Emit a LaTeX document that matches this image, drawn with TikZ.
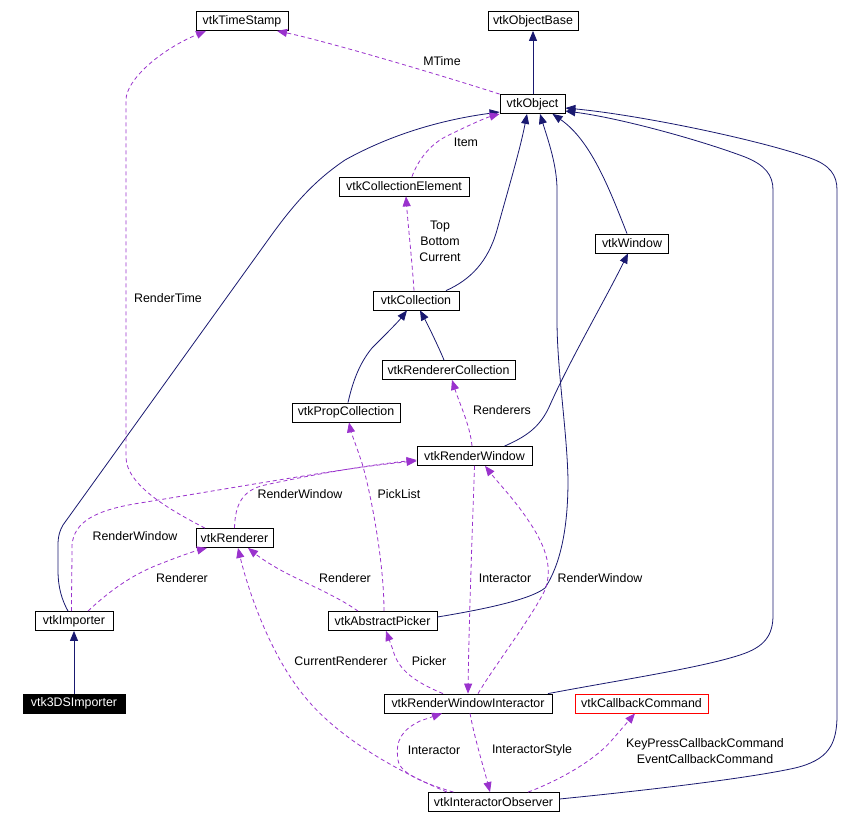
\documentclass[tikz,border=0pt]{standalone}
\usepackage{fontspec}
\setmainfont{Liberation Sans}
\usetikzlibrary{arrows.meta}
\definecolor{navyc}{RGB}{25,25,112}
\definecolor{purc}{RGB}{154,50,205}
\definecolor{redc}{RGB}{255,0,0}
\begin{document}
\begin{tikzpicture}[x=1pt,y=-1pt,
  every node/.style={font=\fontsize{12.4}{14}\selectfont},
  cls/.style={draw=black,line width=0.8pt,fill=white,minimum height=19pt,inner sep=0pt},
  inh/.style={draw=navyc,line width=0.8pt,-{Triangle[length=10pt,width=8pt]}},
  col/.style={draw=purc,line width=0.8pt,dash pattern=on 4pt off 3pt,-{Triangle[length=10pt,width=8pt]}},
  lbl/.style={inner sep=0pt,align=center,font=\fontsize{12.4}{16}\selectfont}]
\useasboundingbox[fill=white] (0,0) rectangle (853,824);

% classes
\node[cls,minimum width=92pt] (ts) at (242,21) {vtkTimeStamp};
\node[cls,minimum width=90pt] (objbase) at (533,21) {vtkObjectBase};
\node[cls,minimum width=65pt] (obj) at (532.5,104) {vtkObject};
\node[cls,minimum width=130pt] (colel) at (404,186.5) {vtkCollectionElement};
\node[cls,minimum width=73pt] (win) at (632,243.5) {vtkWindow};
\node[cls,minimum width=86pt] (coll) at (416,300.5) {vtkCollection};
\node[cls,minimum width=133pt] (rcoll) at (448.5,370) {vtkRendererCollection};
\node[cls,minimum width=108pt] (propcoll) at (346,412.5) {vtkPropCollection};
\node[cls,minimum width=115pt] (rwin) at (474.5,456) {vtkRenderWindow};
\node[cls,minimum width=77pt] (ren) at (234.5,538) {vtkRenderer};
\node[cls,minimum width=78pt] (imp) at (74,621) {vtkImporter};
\node[cls,minimum width=102pt,fill=black,text=white] (ds) at (74,703.5) {vtk3DSImporter};
\node[cls,minimum width=109pt] (picker) at (382.5,621) {vtkAbstractPicker};
\node[cls,minimum width=168pt] (rwi) at (468,703.5) {vtkRenderWindowInteractor};
\node[cls,minimum width=133pt,draw=redc] (cb) at (641.5,703.5) {vtkCallbackCommand};
\node[cls,minimum width=131pt] (iobs) at (493.5,802) {vtkInteractorObserver};

% inheritance (navy)
\draw[inh] ([xshift=0.5pt]obj.north) -- (objbase.south);
\draw[inh] ([xshift=30pt]coll.north) .. controls (470,280) and (488,262) .. (497,230)
  .. controls (508,190) and (520,150) .. ([xshift=-5.5pt]obj.south);
\draw[inh] ([yshift=4pt]picker.east) .. controls (480,610) and (530,600) .. (545,588)
  .. controls (560,565) and (568,530) .. (568,480)
  .. controls (567,430) and (557,370) .. (557,320) -- (557,190)
  .. controls (557,165) and (548,140) .. ([xshift=7.5pt]obj.south);
\draw[inh] ([xshift=-5pt]win.north) .. controls (608,185) and (590,140) .. ([xshift=20pt]obj.south);
\draw[inh] ([xshift=80pt]rwi.north) .. controls (620,680) and (700,668) .. (740,655)
  .. controls (765,647) and (773,635) .. (773,615) -- (773,190)
  .. controls (773,175) and (765,165) .. (745,157)
  .. controls (700,140) and (620,118) .. ([yshift=-7pt]obj.east);
\draw[inh] ([yshift=3pt]iobs.east) .. controls (650,790) and (750,778) .. (795,768)
  .. controls (828,760) and (837,745) .. (837,715) -- (837,190)
  .. controls (837,175) and (830,165) .. (810,158)
  .. controls (760,140) and (640,115) .. ([yshift=-4pt]obj.east);
\draw[inh] ([xshift=-6pt]imp.north) .. controls (62,600) and (58,588) .. (58,570) -- (58,545)
  .. controls (58,536) and (60,530) .. (63,525) -- (273,233)
  .. controls (300,196) and (320,177) .. (345,160)
  .. controls (390,135) and (440,120) .. ([yshift=-8pt]obj.west);
\draw[inh] ([xshift=30pt]rwin.north) .. controls (525,437) and (540,428) .. (550,405)
  .. controls (570,360) and (605,300) .. ([xshift=-4pt]win.south);
\draw[inh] ([xshift=-4.5pt]rcoll.north) .. controls (440,350) and (428,325) .. ([xshift=4pt]coll.south);
\draw[inh] ([xshift=2pt]propcoll.north) .. controls (352,385) and (358,365) .. (372,348)
  .. controls (385,335) and (398,322) .. ([xshift=-9pt]coll.south);
\draw[inh] (ds.north) -- (imp.south);

% collaboration (purple dashed)
\draw[col] ([xshift=8pt]colel.north) .. controls (418,160) and (430,145) .. (445,137)
  .. controls (465,127) and (485,118) .. (obj.south west);
\draw[col] (obj.north west) .. controls (450,78) and (330,42) .. ([xshift=35pt]ts.south);
\draw[col] ([xshift=-29.5pt]ren.north) .. controls (170,510) and (126,485) .. (126,457)
  -- (126,100) .. controls (126,80) and (160,50) .. ([xshift=-36pt]ts.south);
\draw[col] ([xshift=-2pt]coll.north) .. controls (412,260) and (408,225) .. ([xshift=2pt]colel.south);
\draw[col] ([xshift=-2.5pt]rwin.north) .. controls (470,425) and (460,405) .. ([xshift=3.5pt]rcoll.south);
\draw[col] ([xshift=1.5pt]picker.north) .. controls (384,560) and (370,490) .. (362,463)
  .. controls (356,445) and (351,432) .. ([xshift=3pt]propcoll.south);
\draw[col] (ren.north) .. controls (235,505) and (242,490) .. (265,485)
  .. controls (320,473) and (370,465) .. ([yshift=-4pt]rwin.west);
\draw[col] ([xshift=-2.5pt]imp.north) .. controls (71.5,590) and (72,565) .. (72,545)
  .. controls (74,522) and (95,510) .. (140,503)
  .. controls (250,485) and (350,467) .. ([yshift=-5pt]rwin.west);
\draw[col] ([xshift=14pt]imp.north) .. controls (105,595) and (130,575) .. (160,564)
  .. controls (180,556) and (195,551) .. ([xshift=-27.5pt]ren.south);
\draw[col] ([xshift=-24.5pt]picker.north) .. controls (340,598) and (310,585) .. (290,575)
  .. controls (270,565) and (258,556) .. ([xshift=13.5pt]ren.south);
\draw[col] ([xshift=-46.5pt]iobs.north) .. controls (400,772) and (340,740) .. (305,697)
  .. controls (270,655) and (248,590) .. ([xshift=3.5pt]ren.south);
\draw[col] ([xshift=-25pt]rwi.north) .. controls (415,682) and (398,670) .. (393,650)
  -- ([xshift=3.5pt]picker.south);
\draw[col] (rwin.south) .. controls (472,540) and (469,620) .. (rwi.north);
\draw[col] ([xshift=10pt]rwi.north) .. controls (495,665) and (530,620) .. (545,590)
  .. controls (552,570) and (548,550) .. (530,523)
  .. controls (515,500) and (500,485) .. ([xshift=10.5pt]rwin.south);
\draw[col] ([xshift=-40pt]iobs.north) .. controls (430,785) and (400,775) .. (398,760)
  .. controls (395,740) and (402,730) .. (420,721) -- ([xshift=-26pt]rwi.south);
\draw[col] ([xshift=2pt]rwi.south) .. controls (475,740) and (483,765) .. ([xshift=-3.5pt]iobs.north);
\draw[col] ([xshift=34.5pt]iobs.north) .. controls (560,780) and (595,760) .. (612,740)
  -- ([xshift=-6.5pt]cb.south);

% labels
\node[lbl] (l1) at (442,61) {MTime};
\node[lbl] (l2) at (466,142) {Item};
\node[lbl] (l3) at (440,241) {Top\\Bottom\\Current};
\node[lbl] (l4) at (168,298) {RenderTime};
\node[lbl] (l5) at (502,410) {Renderers};
\node[lbl] (l6) at (300,494) {RenderWindow};
\node[lbl] (l7) at (399,494) {PickList};
\node[lbl] (l8) at (135,536) {RenderWindow};
\node[lbl] (l9) at (182,578) {Renderer};
\node[lbl] (l10) at (345,578) {Renderer};
\node[lbl] (l11) at (505,578) {Interactor};
\node[lbl] (l12) at (600,578) {RenderWindow};
\node[lbl] (l13) at (341,661) {CurrentRenderer};
\node[lbl] (l14) at (429,661) {Picker};
\node[lbl] (l15) at (434,750) {Interactor};
\node[lbl] (l16) at (532,750) {InteractorStyle};
\node[lbl] (l17) at (705,751) {KeyPressCallbackCommand\\EventCallbackCommand};
\end{tikzpicture}
\end{document}
